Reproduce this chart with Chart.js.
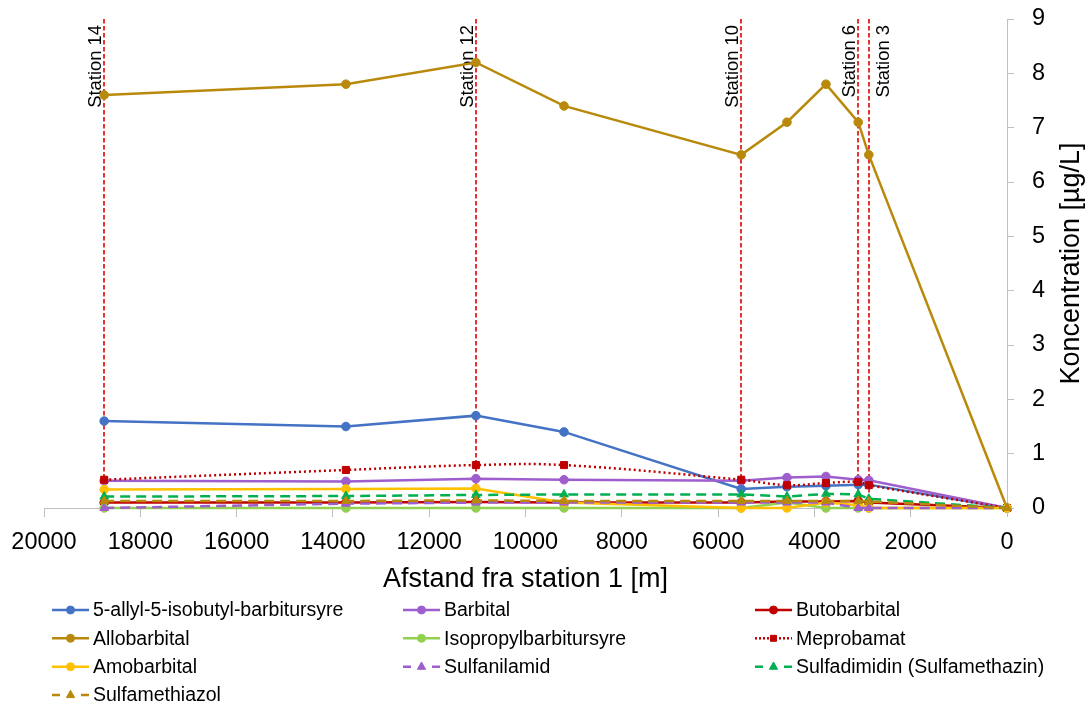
<!DOCTYPE html>
<html><head><meta charset="utf-8">
<script src="https://cdn.jsdelivr.net/npm/chart.js@4.4.1/dist/chart.umd.min.js"></script>
<style>html,body{margin:0;padding:0;background:#fff;}canvas{display:block}</style>
</head><body>
<canvas id="c" width="1089" height="706"></canvas>
<script>
// ---------- data ----------
const distances = [18750, 13730, 11030, 9200, 5520, 4570, 3760, 3090, 2870, 0];

const allylValues         = [1.6, 1.5, 1.7, 1.4, 0.35, 0.39, 0.41, 0.43, 0.43, 0];
const barbitalValues      = [0.5, 0.49, 0.54, 0.52, 0.5, 0.56, 0.58, 0.52, 0.51, 0];
const butobarbitalValues  = [0.1, 0.1, 0.11, 0.1, 0.1, 0.12, 0.12, 0.13, 0.1, 0];
const allobarbitalValues  = [7.6, 7.8, 8.2, 7.4, 6.5, 7.1, 7.8, 7.1, 6.5, 0];
const isopropylValues     = [0, 0, 0, 0, 0, 0.1, 0, 0, 0, 0];
const meprobamatValues    = [0.52, 0.7, 0.79, 0.79, 0.52, 0.42, 0.46, 0.48, 0.42, 0];
const amobarbitalValues   = [0.34, 0.35, 0.36, 0.1, 0, 0, 0.1, 0.05, 0, 0];
const sulfanilamidValues  = [0, 0.08, 0.1, 0.1, 0.1, 0.1, 0.1, 0, 0, 0];
const sulfadimidinValues  = [0.21, 0.22, 0.24, 0.25, 0.25, 0.21, 0.26, 0.25, 0.17, 0];
const sulfamethiazolValues= [0.13, 0.13, 0.14, 0.13, 0.13, 0.13, 0.13, 0.13, 0.12, 0];

const seriesNames = ['5-allyl-5-isobutyl-barbitursyre', 'Barbital', 'Butobarbital',
  'Allobarbital', 'Isopropylbarbitursyre', 'Meprobamat',
  'Amobarbital', 'Sulfanilamid', 'Sulfadimidin (Sulfamethazin)', 'Sulfamethiazol'];
const seriesValues = [allylValues, barbitalValues, butobarbitalValues, allobarbitalValues,
  isopropylValues, meprobamatValues, amobarbitalValues, sulfanilamidValues,
  sulfadimidinValues, sulfamethiazolValues];

const stationNames = ['Station 14', 'Station 12', 'Station 10', 'Station 6', 'Station 3'];
const stationDistances = [18750, 11030, 5520, 3090, 2870];

const xTickValues = [20000, 18000, 16000, 14000, 12000, 10000, 8000, 6000, 4000, 2000, 0];
const yTickValues = [0, 1, 2, 3, 4, 5, 6, 7, 8, 9];
const xTitle = 'Afstand fra station 1 [m]';
const yTitle = 'Koncentration [µg/L]';

// ---------- styles ----------
const FONT = '"Liberation Sans", Arial, sans-serif';
const colors = ['#4472C4', '#9E5ECE', '#C00000', '#B8890B', '#92D050', '#C00000',
  '#FFC000', '#9E5ECE', '#00B050', '#B8890B'];
const markers = ['circle', 'circle', 'circle', 'circle', 'circle', 'rect',
  'circle', 'triangle', 'triangle', 'triangle'];
const lineKinds = ['solid', 'solid', 'solid', 'solid', 'solid', 'dot',
  'solid', 'dash', 'dash', 'dash'];
const stationLabelSide = ['left', 'left', 'left', 'left', 'right'];

function dashFor(kind) {
  if (kind === 'dot') return [2, 3];
  if (kind === 'dash') return [10, 6];
  return [];
}
function radiusFor(m) { return m === 'circle' ? 4.3 : 5; }

const datasets = seriesNames.map((name, i) => ({
  label: name,
  data: distances.map((d, j) => ({ x: d, y: seriesValues[i][j] })),
  borderColor: colors[i],
  backgroundColor: colors[i],
  pointBackgroundColor: colors[i],
  pointBorderColor: colors[i],
  borderWidth: 2.5,
  borderDash: dashFor(lineKinds[i]),
  borderCapStyle: 'butt',
  pointStyle: markers[i],
  pointRadius: radiusFor(markers[i]),
  pointBorderWidth: 1,
  tension: lineKinds[i] === 'dot' ? 0.4 : 0,
  fill: false,
  clip: false,
  order: -i,
  lineKind: lineKinds[i]
}));

function drawMarker(ctx, style, x, y, r, color) {
  ctx.save();
  ctx.fillStyle = color; ctx.strokeStyle = color; ctx.lineWidth = 1; ctx.setLineDash([]);
  ctx.beginPath();
  if (style === 'circle') {
    ctx.arc(x, y, r, 0, Math.PI * 2);
  } else if (style === 'rect') {
    ctx.rect(x - r, y - r, 2 * r, 2 * r);
  } else if (style === 'triangle') {
    ctx.moveTo(x, y - r * 1.1);
    ctx.lineTo(x + r * 0.95, y + r * 0.6);
    ctx.lineTo(x - r * 0.95, y + r * 0.6);
    ctx.closePath();
  }
  ctx.fill(); ctx.stroke();
  ctx.restore();
}

const overlay = {
  id: 'overlay',
  beforeDatasetsDraw(chart) {
    const { ctx, chartArea, scales: { x } } = chart;
    ctx.save();
    ctx.strokeStyle = '#E00000';
    ctx.lineWidth = 1.6;
    ctx.setLineDash([4.5, 2.5]);
    stationDistances.forEach(d => {
      const px = Math.round(x.getPixelForValue(d));
      ctx.beginPath();
      ctx.moveTo(px, chartArea.top);
      ctx.lineTo(px, chartArea.bottom);
      ctx.stroke();
    });
    ctx.setLineDash([]);
    ctx.fillStyle = '#000';
    ctx.font = '18.4px ' + FONT;
    ctx.textAlign = 'right';
    ctx.textBaseline = 'alphabetic';
    stationDistances.forEach((d, i) => {
      const px = x.getPixelForValue(d);
      const off = stationLabelSide[i] === 'right' ? 20 : -3;
      ctx.save();
      ctx.translate(px + off, chartArea.top + 6);
      ctx.rotate(-Math.PI / 2);
      ctx.fillText(stationNames[i], 0, 0);
      ctx.restore();
    });
    ctx.restore();
  },
  afterDraw(chart) {
    const { ctx, chartArea } = chart;
    // y-axis title
    ctx.save();
    ctx.fillStyle = '#000';
    ctx.font = '27px ' + FONT;
    ctx.textAlign = 'center';
    ctx.textBaseline = 'alphabetic';
    ctx.translate(1079, (chartArea.top + chartArea.bottom) / 2);
    ctx.rotate(-Math.PI / 2);
    ctx.fillText(yTitle, 0, 0);
    ctx.restore();

    // legend
    const cols = [52, 403, 755];
    const rows = [610, 638.3, 666.7, 695];
    const len = 37;
    ctx.save();
    chart.data.datasets.forEach((ds, i) => {
      const x0 = cols[i % 3], y0 = rows[Math.floor(i / 3)];
      ctx.strokeStyle = ds.borderColor;
      ctx.lineWidth = 2.5;
      ctx.lineCap = 'butt';
      if (ds.lineKind === 'dash') {
        ctx.setLineDash([]);
        ctx.beginPath();
        ctx.moveTo(x0, y0); ctx.lineTo(x0 + 8, y0);
        ctx.moveTo(x0 + len - 8, y0); ctx.lineTo(x0 + len, y0);
        ctx.stroke();
      } else {
        ctx.setLineDash(ds.lineKind === 'dot' ? [2, 2] : []);
        ctx.beginPath();
        ctx.moveTo(x0, y0); ctx.lineTo(x0 + len, y0);
        ctx.stroke();
      }
      ctx.setLineDash([]);
      const r = ds.pointStyle === 'circle' ? 4 : (ds.pointStyle === 'rect' ? 3 : 4.3);
      drawMarker(ctx, ds.pointStyle, x0 + len / 2, y0, r, ds.borderColor);
      ctx.fillStyle = '#000';
      ctx.font = '19.5px ' + FONT;
      ctx.textAlign = 'left';
      ctx.textBaseline = 'middle';
      ctx.fillText(ds.label, x0 + len + 4, y0 + 1);
    });
    ctx.restore();
  }
};

new Chart(document.getElementById('c'), {
  type: 'line',
  data: { datasets },
  plugins: [overlay],
  options: {
    responsive: false,
    animation: false,
    devicePixelRatio: 1,
    layout: { padding: { left: 44, top: 19, right: 0, bottom: 106 } },
    plugins: { legend: { display: false }, tooltip: { enabled: false } },
    scales: {
      x: {
        type: 'linear', reverse: true, min: 0, max: 20000,
        afterBuildTicks: s => { s.ticks = xTickValues.map(v => ({ value: v })); },
        afterFit: s => { s.height = 92; s.paddingLeft = 0; s.paddingRight = 0; },
        grid: { display: true, drawOnChartArea: false, drawTicks: true, tickLength: 9, color: '#BFBFBF', lineWidth: 1 },
        border: { display: true, color: '#BFBFBF', width: 1 },
        ticks: { color: '#000', font: { family: FONT, size: 23.5 }, padding: 11, maxRotation: 0, autoSkip: false,
                 callback: v => String(v) },
        title: { display: true, text: xTitle, color: '#000', font: { family: FONT, size: 27 }, padding: { top: 0, bottom: 4 } }
      },
      y: {
        position: 'right', min: 0, max: 9,
        afterBuildTicks: s => { s.ticks = yTickValues.map(v => ({ value: v })); },
        afterFit: s => { s.width = 82; s.paddingTop = 0; s.paddingBottom = 0; },
        grid: { display: true, drawOnChartArea: false, drawTicks: true, tickLength: 7, color: '#BFBFBF', lineWidth: 1 },
        border: { display: true, color: '#BFBFBF', width: 1 },
        ticks: { color: '#000', font: { family: FONT, size: 23.5 }, padding: 18, callback: v => String(v) }
      }
    }
  }
});
</script>
</body></html>
